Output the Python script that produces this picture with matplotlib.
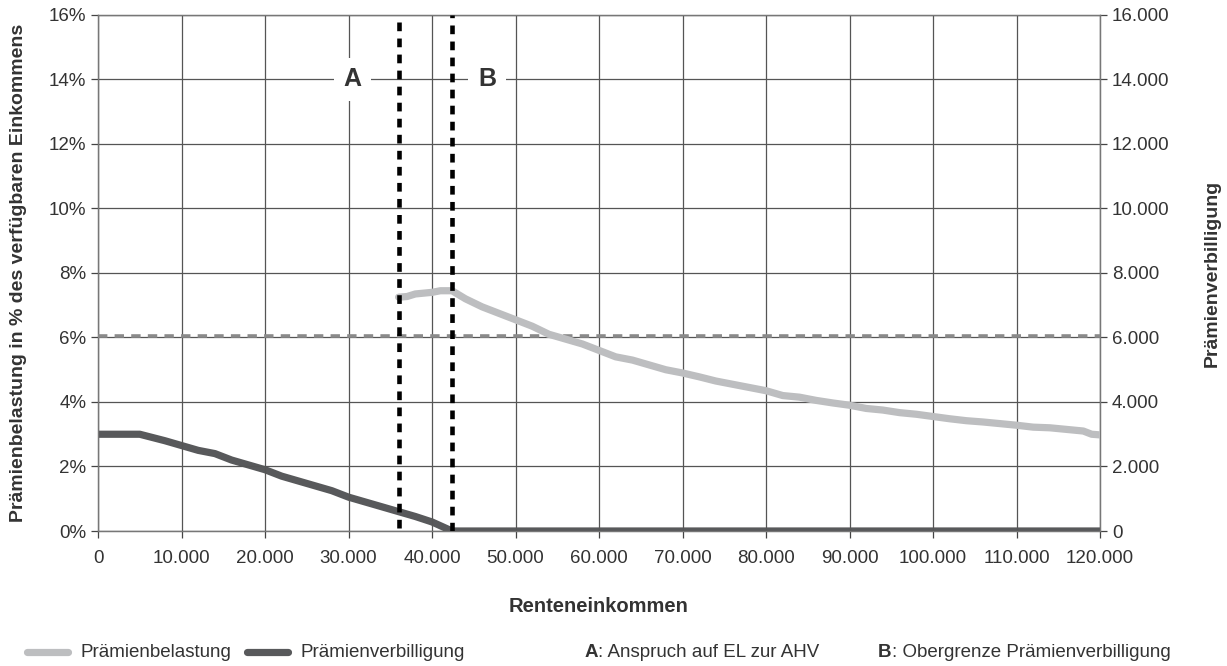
import matplotlib.pyplot as plt
from matplotlib.lines import Line2D
from matplotlib.ticker import FuncFormatter

plt.rcParams['font.family'] = ['Liberation Sans', 'DejaVu Sans']

# Prämienbelastung (% des verfügbaren Einkommens)
belastung_x = [36000, 37000, 38000, 40000, 41000, 42400, 44000, 46000, 48000, 50000,
               52000, 54000, 56000, 58000, 60000, 62000, 64000, 66000, 68000, 70000,
               72000, 74000, 76000, 78000, 80000, 82000, 84000, 86000, 88000, 90000,
               92000, 94000, 96000, 98000, 100000, 102000, 104000, 106000, 108000, 110000,
               112000, 114000, 116000, 118000, 119000, 120000]
belastung_y = [7.25, 7.27, 7.35, 7.4, 7.45, 7.45, 7.2, 6.95, 6.75, 6.55,
               6.35, 6.1, 5.95, 5.8, 5.6, 5.4, 5.3, 5.15, 5.0, 4.9,
               4.78, 4.65, 4.55, 4.45, 4.35, 4.2, 4.15, 4.05, 3.97, 3.9,
               3.8, 3.75, 3.67, 3.62, 3.55, 3.48, 3.42, 3.38, 3.33, 3.28,
               3.22, 3.2, 3.15, 3.1, 3.0, 2.98]

# Prämienverbilligung (CHF)
verbilligung_x = [0, 5000, 8000, 10000, 12000, 14000, 16000, 18000, 20000, 22000,
                  24000, 26000, 28000, 30000, 32000, 34000, 36000, 38000, 40000, 42400, 120000]
verbilligung_y = [3000, 3000, 2800, 2650, 2500, 2400, 2200, 2050, 1900, 1700,
                  1550, 1400, 1250, 1050, 900, 750, 600, 450, 280, 0, 0]

referenz = 6.05          # horizontale Referenzlinie in %
grenze_a = 36000         # Anspruch auf EL zur AHV
grenze_b = 42400         # Obergrenze Prämienverbilligung

light = '#bdbec0'
dark = '#58595b'
txt = '#333333'
fs = 13.5

fig = plt.figure(figsize=(12.27, 6.66), dpi=100)
ax = fig.add_axes([0.0799, 0.2027, 0.8166, 0.7748])
ax2 = ax.twinx()

ax.set_xlim(0, 120000)
ax.set_ylim(0, 16)
ax2.set_ylim(0, 16000)
ax.set_xticks(range(0, 120001, 10000))
ax.set_yticks(range(0, 17, 2))
ax2.set_yticks(range(0, 16001, 2000))
ax.xaxis.set_major_formatter(FuncFormatter(lambda v, p: f'{int(v):,}'.replace(',', '.')))
ax.yaxis.set_major_formatter(FuncFormatter(lambda v, p: f'{int(v)}%'))
ax2.yaxis.set_major_formatter(FuncFormatter(lambda v, p: f'{int(v):,}'.replace(',', '.')))

ax.grid(True, color='#555555', lw=0.9)
for a in (ax, ax2):
    a.tick_params(labelsize=fs, colors='#444444', labelcolor=txt, length=5, width=0.9)
    for s in a.spines.values():
        s.set_color('#777777')
        s.set_linewidth(0.9)
ax.tick_params(axis='x', pad=9)

ax.axhline(referenz, color='#8a8a8a', lw=2.6, ls=(0, (2.6, 2.0)), zorder=3)
ax.plot(belastung_x, belastung_y, color=light, lw=5.2, solid_capstyle='round', zorder=4)
ax2.plot(verbilligung_x, verbilligung_y, color=dark, lw=5.2, solid_capstyle='round', zorder=4)
ax.set_zorder(ax2.get_zorder() + 1)
ax.patch.set_visible(False)

ax.plot([grenze_a, grenze_a], [0.1, 16], color='black', lw=3.3, ls=(0, (1.9, 1.6)), zorder=5)
ax.plot([grenze_b, grenze_b], [0, 16], color='black', lw=3.3, ls=(0, (1.9, 1.6)), zorder=5)

for lab, xpos in (('A', 30500), ('B', 46600)):
    ax.text(xpos, 14, lab, fontsize=18, fontweight='bold', color=txt, ha='center', va='center',
            zorder=6, bbox=dict(facecolor='white', edgecolor='none', pad=7))

ax.set_ylabel('Prämienbelastung in % des verfügbaren Einkommens', fontsize=14,
              fontweight='bold', color=txt)
ax.yaxis.set_label_coords(-0.071, 0.5)
ax2.set_ylabel('Prämienverbilligung', fontsize=14, fontweight='bold', color=txt)
ax2.yaxis.set_label_coords(1.104, 0.5)
fig.text(0.4882, 0.09, 'Renteneinkommen', fontsize=14.5, fontweight='bold', color=txt,
         ha='center', va='center')

# Legende
ly = 0.021
fig.add_artist(Line2D([27 / 1227, 68 / 1227], [ly, ly], color=light, lw=5.2, solid_capstyle='round'))
fig.text(80 / 1227, ly, 'Prämienbelastung', fontsize=fs, color=txt, va='center')
fig.add_artist(Line2D([247 / 1227, 288 / 1227], [ly, ly], color=dark, lw=5.2, solid_capstyle='round'))
fig.text(300 / 1227, ly, 'Prämienverbilligung', fontsize=fs, color=txt, va='center')

renderer = fig.canvas.get_renderer()
for lab, rest, x0 in (('A', ': Anspruch auf EL zur AHV', 585), ('B', ': Obergrenze Prämienverbilligung', 878)):
    t = fig.text(x0 / 1227, ly, lab, fontsize=fs, fontweight='bold', color=txt, va='center')
    w = t.get_window_extent(renderer).width
    fig.text((x0 + w) / 1227, ly, rest, fontsize=fs, color=txt, va='center')

fig.savefig('out.png', dpi=100)
